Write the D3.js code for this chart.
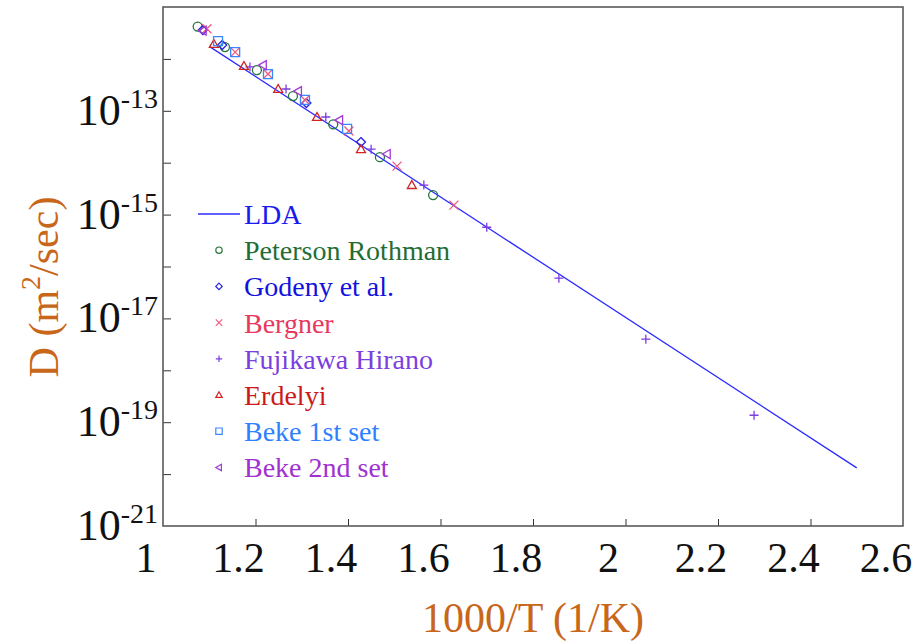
<!DOCTYPE html>
<html>
<head>
<meta charset="utf-8">
<script src="https://cdn.jsdelivr.net/npm/d3@7"></script>
<style>
  body { margin: 0; background: #fff; }
  svg { display: block; }
</style>
</head>
<body>
<svg id="svg" width="922" height="642" font-family="'Liberation Serif', 'Times New Roman', Times, serif"></svg>
<script>
//Axis ticks and labels
const X_TICKS = [1, 1.2, 1.4, 1.6, 1.8, 2, 2.2, 2.4, 2.6];
const Y_DECADES = [1e-21, 1e-20, 1e-19, 1e-18, 1e-17, 1e-16, 1e-15, 1e-14, 1e-13, 1e-12, 1e-11];
const Y_LABEL_EXP = [-13, -15, -17, -19, -21];

//LDA line end points (1000/T, D)
const LDA_X = [1.1, 2.5];
const LDA_D = [1.74e-12, 1.32e-20];

//Experimental sets
const PETERSON_X = [1.075, 1.134, 1.203, 1.281, 1.368, 1.469, 1.584];
const PETERSON_D = [4.2e-12, 1.69e-12, 6.1e-13, 1.92e-13, 5.5e-14, 1.28e-14, 2.38e-15];

const GODENY_X = [1.086, 1.128, 1.31, 1.428];
const GODENY_D = [3.6e-12, 1.85e-12, 1.41e-13, 2.5e-14];

const BERGNER_X = [1.095, 1.156, 1.227, 1.307, 1.402, 1.506, 1.629];
const BERGNER_D = [3.8e-12, 1.35e-12, 5.1e-13, 1.62e-13, 4.07e-14, 8.6e-15, 1.52e-15];

const FUJIKAWA_X = [1.188, 1.266, 1.352, 1.45, 1.564, 1.7, 1.856, 2.044, 2.278];
const FUJIKAWA_D = [7.0e-13, 2.63e-13, 7.6e-14, 1.82e-14, 3.7e-15, 5.7e-16, 5.96e-17, 3.97e-18, 1.36e-19];

const ERDELYI_X = [1.11, 1.175, 1.249, 1.333, 1.428, 1.538];
const ERDELYI_D = [1.94e-12, 7.3e-13, 2.63e-13, 7.6e-14, 1.82e-14, 3.7e-15];

const BEKE1_X = [1.119, 1.156, 1.227, 1.307, 1.398];
const BEKE1_D = [2.2e-12, 1.35e-12, 5.1e-13, 1.62e-13, 4.5e-14];

const BEKE2_X = [1.086, 1.216, 1.292, 1.381, 1.484];
const BEKE2_D = [3.5e-12, 7.6e-13, 2.4e-13, 6.6e-14, 1.47e-14];

const SERIES = [
    { name: "Peterson Rothman", x: PETERSON_X, d: PETERSON_D, shape: "circle",   color: "#26773a", text: "#1f6e35" },
    { name: "Godeny et al.",    x: GODENY_X,   d: GODENY_D,   shape: "diamond",  color: "#2323dd", text: "#1212dd" },
    { name: "Bergner",          x: BERGNER_X,  d: BERGNER_D,  shape: "times",    color: "#ee5a7c", text: "#e8385e" },
    { name: "Fujikawa Hirano",  x: FUJIKAWA_X, d: FUJIKAWA_D, shape: "plus",     color: "#7c3ce0", text: "#7b3fe0" },
    { name: "Erdelyi",          x: ERDELYI_X,  d: ERDELYI_D,  shape: "triangle", color: "#d42222", text: "#cc1a1a" },
    { name: "Beke 1st set",     x: BEKE1_X,    d: BEKE1_D,    shape: "square",   color: "#3a86ff", text: "#2f80ff" },
    { name: "Beke 2nd set",     x: BEKE2_X,    d: BEKE2_D,    shape: "ltri",     color: "#a23ad8", text: "#a030d0" }
];

const TITLE_COLOR = "#c8661a";
const LINE_COLOR = "#2b2bff";
const FONT = "'Liberation Serif', 'Times New Roman', Times, serif";

//Layout
const LEFT = 163, RIGHT = 903, TOP = 7, BOTTOM = 526;

//Marker paths, r = half size
function markerPath(shape, r)
{
    if(shape === "circle") return "M" + r + ",0A" + r + "," + r + " 0 1,1 " + (-r) + ",0A" + r + "," + r + " 0 1,1 " + r + ",0Z";
    if(shape === "diamond") return "M0," + (-r) + "L" + r + ",0L0," + r + "L" + (-r) + ",0Z";
    if(shape === "times") return "M" + (-r) + "," + (-r) + "L" + r + "," + r + "M" + (-r) + "," + r + "L" + r + "," + (-r);
    if(shape === "plus") return "M" + (-r) + ",0L" + r + ",0M0," + (-r) + "L0," + r;
    if(shape === "triangle") return "M0," + (-r) + "L" + r + "," + (r * 0.75) + "L" + (-r) + "," + (r * 0.75) + "Z";
    if(shape === "square") return "M" + (-r) + "," + (-r) + "H" + r + "V" + r + "H" + (-r) + "Z";
    if(shape === "ltri") return "M" + (-r) + ",0L" + (r * 0.75) + "," + (-r) + "L" + (r * 0.75) + "," + r + "Z";
    return "";
}

window.addEventListener("load", main);

function main()
{
    let svg = d3.select("#svg");

    let x_scale = d3.scaleLinear().domain([1, 2.6]).range([LEFT, RIGHT]);
    let y_scale = d3.scaleLog().domain([1e-21, 1e-11]).range([BOTTOM, TOP]);

    //Inner ticks
    let x_axis = d3.axisBottom(x_scale).tickValues(X_TICKS.slice(1, -1)).tickSize(-7).tickFormat("");
    let y_axis = d3.axisLeft(y_scale).tickValues(Y_DECADES.slice(1, -1)).tickSize(-8).tickFormat("");

    let gx = svg.append("g").attr("transform", "translate(0," + BOTTOM + ")").call(x_axis);
    let gy = svg.append("g").attr("transform", "translate(" + LEFT + ",0)").call(y_axis);
    gx.select(".domain").remove();
    gy.select(".domain").remove();
    svg.selectAll(".tick line").attr("stroke", "#333").attr("stroke-width", 1);

    //Frame
    svg.append("rect")
        .attr("x", LEFT).attr("y", TOP)
        .attr("width", RIGHT - LEFT).attr("height", BOTTOM - TOP)
        .attr("fill", "none").attr("stroke", "#5a5a5a").attr("stroke-width", 1.6);

    //X labels
    svg.append("g").selectAll("text")
        .data(X_TICKS)
        .enter().append("text")
        .attr("x", function(v) { return x_scale(v) - 17; })
        .attr("y", 572)
        .attr("text-anchor", "middle")
        .attr("font-family", FONT)
        .attr("font-size", 42)
        .attr("fill", "#111")
        .text(function(v) { return String(v); });

    //Y labels
    let ylab = svg.append("g").selectAll("text")
        .data(Y_LABEL_EXP)
        .enter().append("text")
        .attr("x", 158)
        .attr("y", function(e) { return y_scale(Math.pow(10, e)) + 14; })
        .attr("text-anchor", "end")
        .attr("font-family", FONT)
        .attr("fill", "#111");
    ylab.append("tspan").attr("font-size", 44).text("10");
    ylab.append("tspan").attr("font-size", 28).attr("dy", -17).text(function(e) { return String(e); });

    //Axis titles
    svg.append("text")
        .attr("x", (LEFT + RIGHT) / 2)
        .attr("y", 632)
        .attr("text-anchor", "middle")
        .attr("font-family", FONT)
        .attr("font-size", 42)
        .attr("fill", TITLE_COLOR)
        .text("1000/T (1/K)");

    let yt = svg.append("text")
        .attr("transform", "translate(58,287) rotate(-90)")
        .attr("text-anchor", "middle")
        .attr("font-family", FONT)
        .attr("font-size", 42)
        .attr("fill", TITLE_COLOR);
    yt.append("tspan").text("D (m");
    yt.append("tspan").attr("font-size", 28).attr("dy", -18).text("2");
    yt.append("tspan").attr("dy", 18).text("/sec)");

    //LDA line
    let lda = LDA_X.map(function(v, i) { return { x: v, d: LDA_D[i] }; });
    svg.append("path")
        .datum(lda)
        .attr("fill", "none")
        .attr("stroke", LINE_COLOR)
        .attr("stroke-width", 1.3)
        .attr("d", d3.line().x(function(p) { return x_scale(p.x); }).y(function(p) { return y_scale(p.d); }));

    //Markers
    SERIES.forEach(function(s)
    {
        let pts = s.x.map(function(v, i) { return { x: v, d: s.d[i] }; });
        svg.append("g")
            .selectAll("path")
            .data(pts)
            .enter().append("path")
            .attr("transform", function(p) { return "translate(" + x_scale(p.x) + "," + y_scale(p.d) + ")"; })
            .attr("d", markerPath(s.shape, 4.5))
            .attr("fill", "none")
            .attr("stroke", s.color)
            .attr("stroke-width", 1.3);
    });

    //Legend
    const LEG_X = 219, LEG_Y = 214, LEG_STEP = 36.2;
    let leg = svg.append("g");
    leg.append("line")
        .attr("x1", 198).attr("x2", 240)
        .attr("y1", LEG_Y).attr("y2", LEG_Y)
        .attr("stroke", LINE_COLOR).attr("stroke-width", 1.3);
    leg.append("text")
        .attr("x", 244).attr("y", LEG_Y + 10)
        .attr("font-family", FONT)
        .attr("font-size", 28)
        .attr("fill", "#1a1aee")
        .text("LDA");

    let rows = leg.selectAll("g.row")
        .data(SERIES)
        .enter().append("g")
        .attr("class", "row")
        .attr("transform", function(s, i) { return "translate(0," + (LEG_Y + (i + 1) * LEG_STEP) + ")"; });
    rows.append("path")
        .attr("transform", "translate(" + LEG_X + ",0)")
        .attr("d", function(s) { return markerPath(s.shape, 3.2); })
        .attr("fill", "none")
        .attr("stroke", function(s) { return s.color; })
        .attr("stroke-width", 1.2);
    rows.append("text")
        .attr("x", 244).attr("y", 10)
        .attr("font-family", FONT)
        .attr("font-size", 28)
        .attr("fill", function(s) { return s.text; })
        .text(function(s) { return s.name; });
}
</script>
</body>
</html>
